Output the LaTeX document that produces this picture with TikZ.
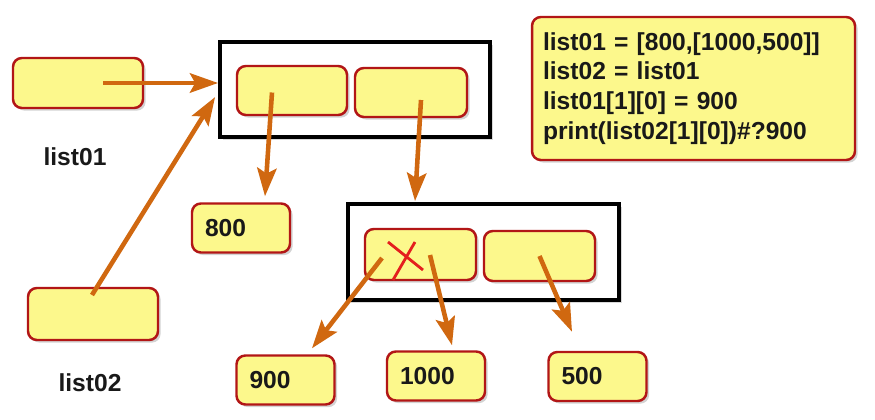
\documentclass[tikz,border=0pt]{standalone}
\usepackage{fontspec}
\setmainfont{Liberation Sans}
\usepackage{tikz}
\usetikzlibrary{arrows.meta,shapes,positioning,calc,shadows}
\definecolor{CellYellow}{RGB}{252,248,140}
\definecolor{CellRed}{RGB}{178,22,22}
\definecolor{PtrOrange}{RGB}{208,104,16}
\definecolor{CrossRed}{RGB}{228,30,30}
\definecolor{TxtDark}{RGB}{25,25,25}
\tikzset{
  cell/.style={draw=CellRed,fill=CellYellow,line width=1.4pt,rounded corners=5pt,minimum height=0.98cm,
    drop shadow={shadow xshift=1.5pt,shadow yshift=-1.5pt,opacity=0.35},font=\bfseries\fontsize{14}{17}\selectfont,text=TxtDark},
  vbox/.style={cell,text width=1.44cm,inner xsep=0.26cm,align=left},
  lframe/.style={draw=black,fill=white,line width=2.2pt,
    drop shadow={shadow xshift=1.5pt,shadow yshift=-1.5pt,opacity=0.3}},
  lbl/.style={font=\bfseries\fontsize{14}{17}\selectfont,text=TxtDark},
  ptr/.style={-{Stealth[length=16pt,width=11pt,inset=3pt]},PtrOrange,line width=2.6pt},
  cross/.style={CrossRed,line width=1.6pt},
}
\begin{document}
\begin{tikzpicture}[x=0.02cm,y=-0.02cm]
  \useasboundingbox (0,0) rectangle (875,419);
  % list frames
  \node[lframe,minimum width=5.4cm,minimum height=1.9cm] (lst) at (355,89.5) {};
  \node[lframe,minimum width=5.42cm,minimum height=1.92cm] (sub) at (483.5,252) {};
  % variables
  \node[cell,minimum width=2.6cm,minimum height=1.0cm] (var1) at (78,83) {};
  \node[cell,minimum width=2.6cm,minimum height=1.04cm] (var2) at (93,314) {};
  \node[lbl] (lbl1) at (75,157) {list01};
  \node[lbl] (lbl2) at (90,383) {list02};
  % list cells
  \node[cell,minimum width=2.2cm] (a0) at (292,90.5) {};
  \node[cell,minimum width=2.24cm] (a1) at (411,92.5) {};
  \node[cell,minimum width=2.22cm,minimum height=1.02cm] (b0) at (420.5,254.5) {};
  \node[cell,minimum width=2.22cm,minimum height=1.0cm] (b1) at (539.5,256) {};
  % values
  \node[vbox] (n800) at (241,228) {800};
  \node[vbox] (n900) at (285.5,380) {900};
  \node[vbox] (n1000) at (436,376) {1000};
  \node[vbox] (n500) at (597.5,376.5) {500};
  % code
  \node[cell,text width=6.02cm,inner xsep=0.22cm,minimum height=2.86cm,align=left] (code) at (693.5,88.5)
    {list01 = [800,[1000,500]]\\list02 = list01\\list01[1][0] = 900\\print(list02[1][0])\#?900};
  % pointers
  \draw[ptr] ($(var1.center)+(25,0)$) -- (var1 -| lst.west);
  \draw[ptr] ($(var2.center)+(-1,-19)$) -- ($(lst.west)+(-3,7.5)$);
  \draw[ptr] ($(a0.center)+(-20,2)$) -- ($(n800.north)+(24,-6)$);
  \draw[ptr] ($(a1.center)+(10,7.5)$) -- ($(sub.north)+(-68.5,-1)$);
  \draw[ptr] ($(b0.center)+(-38.5,3.5)$) -- ($(n900.north)+(26.5,-6)$);
  \draw[ptr] ($(b0.center)+(9.5,0.5)$) -- ($(n1000.north)+(16,-5)$);
  \draw[ptr] (b1.center) -- ($(n500.north)+(-25.5,-19)$);
  % crossed out
  \draw[cross] ($(b0.center)+(-32.5,-12.5)$) -- ($(b0.center)+(2.5,15.5)$);
  \draw[cross] ($(b0.center)+(-5.5,-12.5)$) -- ($(b0.center)+(-27.5,25.5)$);
\end{tikzpicture}
\end{document}
